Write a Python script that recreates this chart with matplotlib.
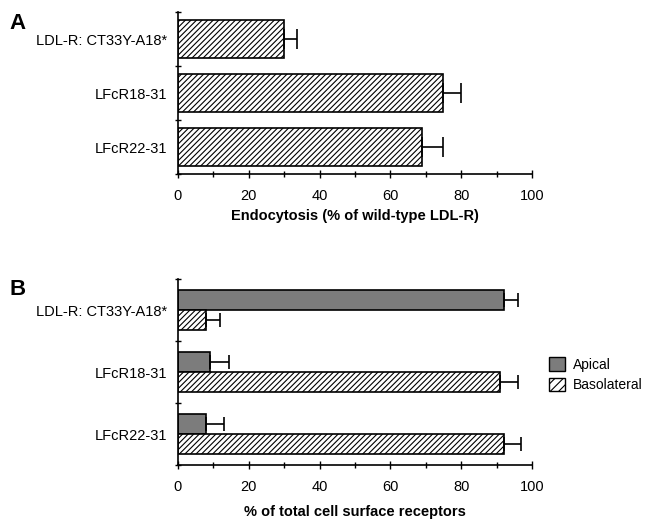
import numpy as np
import matplotlib
matplotlib.use("Agg")
import matplotlib.pyplot as plt
from matplotlib.patches import Patch

# =========================
# DATA
# =========================
constructs = ["LDL-R: CT33Y-A18*", "LFcR18-31", "LFcR22-31"]

endocytosis = [30, 75, 69]
endocytosis_err = [3.5, 5, 6]

apical = [92, 9, 8]
apical_err = [4, 5.5, 5]
basolateral = [8, 91, 92]
basolateral_err = [4, 5, 5]

x_ticks = [0, 20, 40, 60, 80, 100]

plt.rcParams["font.family"] = ["Liberation Sans", "DejaVu Sans"]
plt.rcParams["hatch.linewidth"] = 0.8

HATCH = "//////"
APICAL_COLOR = "#7c7c7c"


def style_axes(ax):
    ax.spines["top"].set_visible(False)
    ax.spines["right"].set_visible(False)
    ax.spines["left"].set_linewidth(1.2)
    ax.spines["bottom"].set_linewidth(1.2)
    ax.set_xlim(0, 100)
    ax.set_ylim(3, 0)
    ax.set_xticks(x_ticks)
    ax.set_xticks(np.arange(10, 100, 20), minor=True)
    ax.tick_params(axis="x", which="major", direction="inout", length=6, width=1, labelsize=10.5, pad=8)
    ax.tick_params(axis="x", which="minor", direction="inout", length=4, width=1)
    # category boundaries as ticks on the left spine, labels at the centres
    ax.set_yticks([0, 1, 2, 3])
    ax.set_yticklabels([])
    ax.tick_params(axis="y", which="major", direction="inout", length=5, width=1)
    ax.set_yticks(np.arange(len(constructs)) + 0.5, minor=True)
    ax.set_yticklabels(constructs, minor=True, fontsize=10.5)
    ax.tick_params(axis="y", which="minor", length=0, pad=8)


fig = plt.figure(figsize=(6.47, 5.22), dpi=100)

# -------------------------
# Panel A
# -------------------------
axA = fig.add_axes([0.2751, 0.6667, 0.547, 0.310])
yA = np.arange(len(constructs)) + 0.5
axA.barh(yA, endocytosis, height=0.7, color="white", edgecolor="black",
         hatch=HATCH, linewidth=1.2)
axA.errorbar(endocytosis, yA, xerr=[np.zeros(3), endocytosis_err], fmt="none",
             ecolor="black", elinewidth=1.2, capsize=7, capthick=1.2)
style_axes(axA)
axA.set_xlabel("Endocytosis (% of wild-type LDL-R)", fontsize=10.5,
               fontweight="bold", labelpad=4)
fig.text(0.015, 0.945, "A", fontsize=16, fontweight="bold")

# -------------------------
# Panel B
# -------------------------
axB = fig.add_axes([0.2751, 0.1092, 0.547, 0.356])
yB = np.arange(len(constructs)) + 0.5
h = 0.32
axB.barh(yB - h / 2, apical, height=h, color=APICAL_COLOR, edgecolor="black",
         linewidth=1.2)
axB.barh(yB + h / 2, basolateral, height=h, color="white", edgecolor="black",
         hatch=HATCH, linewidth=1.2)
axB.errorbar(apical, yB - h / 2, xerr=[np.zeros(3), apical_err], fmt="none",
             ecolor="black", elinewidth=1.2, capsize=5, capthick=1.2)
axB.errorbar(basolateral, yB + h / 2, xerr=[np.zeros(3), basolateral_err], fmt="none",
             ecolor="black", elinewidth=1.2, capsize=5, capthick=1.2)
style_axes(axB)
axB.set_xlabel("% of total cell surface receptors", fontsize=10.5,
               fontweight="bold", labelpad=8)
fig.text(0.015, 0.435, "B", fontsize=16, fontweight="bold")

handles = [Patch(facecolor=APICAL_COLOR, edgecolor="black", label="Apical"),
           Patch(facecolor="white", edgecolor="black", hatch="////", label="Basolateral")]
fig.legend(handles=handles, loc="center left", bbox_to_anchor=(0.849, 0.282),
           frameon=False, fontsize=10, handlelength=1.1, handleheight=1.1,
           handletextpad=0.6, labelspacing=0.45, borderaxespad=0, borderpad=0)

fig.savefig("out.png", dpi=100, facecolor="white")
